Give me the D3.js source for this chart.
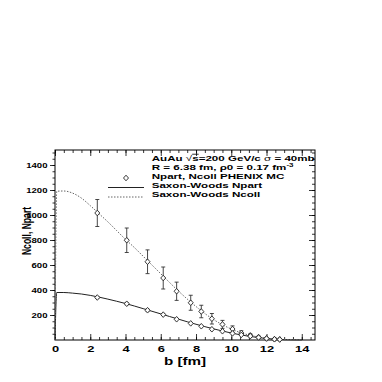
<!DOCTYPE html>
<html>
<head>
<meta charset="utf-8">
<script src="https://cdn.jsdelivr.net/npm/d3@7"></script>
<style>
  body { margin: 0; background: #fff; }
  text { font-family: "Liberation Sans", Arial, sans-serif; font-weight: bold; fill: #000; }
</style>
</head>
<body>
<div id="chart"></div>
<script>
// MC points (impact parameter b in fm)
const bPts = [2.4, 4.07, 5.25, 6.14, 6.9, 7.7, 8.3, 8.9, 9.5, 10.07, 10.57, 11.08, 11.55, 12.0, 12.45, 12.75];
const npartPts = [340, 290, 238, 203, 166, 133, 110, 86, 70, 53, 41, 31, 20, 12, 6, 4];
const npartErr = [8, 8, 8, 7, 6, 6, 5, 5, 4, 4, 3, 3, 2, 2, 1, 1];
const ncollPts = [1016, 798, 626, 496, 390, 298, 228, 170, 125, 88, 56, 37, 23, 13, 7, 5];
const ncollErr = [108, 98, 95, 88, 73, 60, 50, 42, 32, 25, 18, 12, 8, 5, 3, 2];

// Saxon-Woods curves
const bCurve = [0, 0.1, 0.5, 1, 1.5, 2, 2.5, 3, 3.5, 4, 4.5, 5, 5.5, 6, 6.5, 7, 7.5, 8, 8.5, 9, 9.5, 10, 10.5, 11, 11.5, 12, 12.5, 13, 13.5, 14];
const swNcoll = [0, 1190, 1192, 1175, 1135, 1075, 1010, 945, 875, 805, 740, 670, 600, 530, 460, 392, 328, 268, 212, 163, 122, 88, 60, 40, 25, 15, 8, 4, 2, 1];
const swNpart = [0, 380, 380, 375, 368, 357, 343, 327, 310, 292, 272, 251, 230, 209, 188, 167, 146, 126, 107, 89, 72, 56, 42, 30, 20, 12, 7, 3, 1.5, 0.5];

// axis ticks
const xMajor = [0, 2, 4, 6, 8, 10, 12, 14];
const xMinor = d3.range(0, 14.75, 0.5);
const yMajor = [200, 400, 600, 800, 1000, 1200, 1400];
const yMinor = d3.range(50, 1520, 50);

const legendLines = ["AuAu", "R = 6.38 fm, ρ0 = 0.17 fm", "Npart, Ncoll PHENIX MC", "Saxon-Woods Npart", "Saxon-Woods Ncoll"];

const w = 382, h = 382;
const svg = d3.select("#chart").append("svg").attr("width", w).attr("height", h);
svg.append("rect").attr("width", w).attr("height", h).attr("fill", "#fff");

const x = d3.scaleLinear().domain([0, 14.75]).range([55, 315]);
const y = d3.scaleLinear().domain([0, 1520]).range([340, 150]);

function axisG(axis, tx, ty) {
  const g = svg.append("g").attr("transform", "translate(" + tx + "," + ty + ")").call(axis);
  g.select(".domain").remove();
  g.selectAll("line").attr("stroke", "#000").attr("stroke-width", 0.8);
  return g;
}

// minor ticks
axisG(d3.axisBottom(x).tickValues(xMinor).tickSizeInner(-3).tickSizeOuter(0).tickFormat(""), 0, 340);
axisG(d3.axisTop(x).tickValues(xMinor).tickSizeInner(-3).tickSizeOuter(0).tickFormat(""), 0, 150);
axisG(d3.axisLeft(y).tickValues(yMinor).tickSizeInner(2.5).tickSizeOuter(0).tickFormat(""), 55, 0);
axisG(d3.axisRight(y).tickValues(yMinor).tickSizeInner(-3).tickSizeOuter(0).tickFormat(""), 315, 0);

// major ticks
const gx = axisG(d3.axisBottom(x).tickValues(xMajor).tickSizeInner(-6).tickSizeOuter(0).tickFormat(d3.format("d")), 0, 340);
gx.selectAll("text").attr("y", 0).attr("dy", null)
  .attr("transform", "translate(0,11.8) scale(1.5,1)")
  .attr("font-size", 8.6).attr("fill", "#000");
axisG(d3.axisTop(x).tickValues(xMajor).tickSizeInner(-6).tickSizeOuter(0).tickFormat(""), 0, 150);
const gy = axisG(d3.axisLeft(y).tickValues(yMajor).tickSizeInner(5).tickSizeOuter(0).tickFormat(d3.format("d")), 55, 0);
gy.selectAll("text").attr("x", 0).attr("dy", null)
  .attr("transform", "translate(-7.5,2.6) scale(1.35,1)")
  .attr("font-size", 7.1).attr("fill", "#000");
axisG(d3.axisRight(y).tickValues(yMajor).tickSizeInner(-6).tickSizeOuter(0).tickFormat(""), 315, 0);

// frame
svg.append("rect").attr("x", 55).attr("y", 150).attr("width", 260).attr("height", 190)
  .attr("fill", "none").attr("stroke", "#000").attr("stroke-width", 1);

// axis titles
svg.append("text").attr("transform", "translate(185,364.5) scale(1.45,1)")
  .attr("font-size", 10.5).attr("text-anchor", "middle").text("b [fm]");
svg.append("text").attr("transform", "translate(30.5,231) scale(1.55,1) rotate(-90)")
  .attr("font-size", 8.6).attr("text-anchor", "middle").text("Ncoll, Npart");

// curves
const line = d3.line().x(d => x(d[0])).y(d => y(d[1])).curve(d3.curveMonotoneX);
svg.append("path").datum(d3.zip(bCurve, swNpart)).attr("d", line)
  .attr("fill", "none").attr("stroke", "#222").attr("stroke-width", 1);
svg.append("path").datum(d3.zip(bCurve, swNcoll)).attr("d", line)
  .attr("fill", "none").attr("stroke", "#666").attr("stroke-width", 1).attr("stroke-dasharray", "1.5,1.5");

const diamond = "M0,-2.8L2.5,0L0,2.8L-2.5,0Z";

function drawPoints(vals, errs) {
  const g = svg.append("g");
  const pts = g.selectAll("g").data(d3.zip(bPts, vals, errs)).enter().append("g");
  pts.append("line")
    .attr("x1", d => x(d[0])).attr("x2", d => x(d[0]))
    .attr("y1", d => y(d[1] - d[2])).attr("y2", d => y(d[1] + d[2]))
    .attr("stroke", "#333").attr("stroke-width", 0.9);
  pts.filter(d => d[2] > 6).append("path")
    .attr("d", d => "M" + (x(d[0]) - 2) + "," + y(d[1] + d[2]) + "h4M" + (x(d[0]) - 2) + "," + y(d[1] - d[2]) + "h4")
    .attr("stroke", "#333").attr("stroke-width", 0.9);
  pts.append("path").attr("d", diamond)
    .attr("transform", d => "translate(" + x(d[0]) + "," + y(d[1]) + ")")
    .attr("fill", "#fff").attr("stroke", "#222").attr("stroke-width", 0.9);
}
drawPoints(ncollPts, ncollErr);
drawPoints(npartPts, npartErr);

// legend
const lx = 151.7;
const base = [161, 170, 179, 188, 197];
const lt = (i) => svg.append("text").attr("transform", "translate(" + lx + "," + base[i] + ") scale(1.45,1)")
  .attr("font-size", 8);

const t0 = lt(0);
t0.append("tspan").text(legendLines[0] + " ");
t0.append("tspan").attr("font-weight", "normal").text("√");
t0.append("tspan").style("text-decoration", "overline").text("s");
t0.append("tspan").text("=200 GeV/c ");
t0.append("tspan").attr("font-weight", "normal").text("σ");
t0.append("tspan").text(" = 40mb");

const t1 = lt(1);
t1.append("tspan").text(legendLines[1]);
t1.append("tspan").attr("dy", -3).attr("font-size", 5.5).text("-3");

lt(2).text(legendLines[2]);
lt(3).text(legendLines[3]);
lt(4).text(legendLines[4]);

svg.append("path").attr("d", diamond).attr("transform", "translate(126,178)")
  .attr("fill", "#fff").attr("stroke", "#222").attr("stroke-width", 0.9);
svg.append("line").attr("x1", 108).attr("x2", 144).attr("y1", 187.5).attr("y2", 187.5)
  .attr("stroke", "#222").attr("stroke-width", 1);
svg.append("line").attr("x1", 108).attr("x2", 144).attr("y1", 197).attr("y2", 197)
  .attr("stroke", "#666").attr("stroke-width", 1).attr("stroke-dasharray", "1.5,1.5");
</script>
</body>
</html>
